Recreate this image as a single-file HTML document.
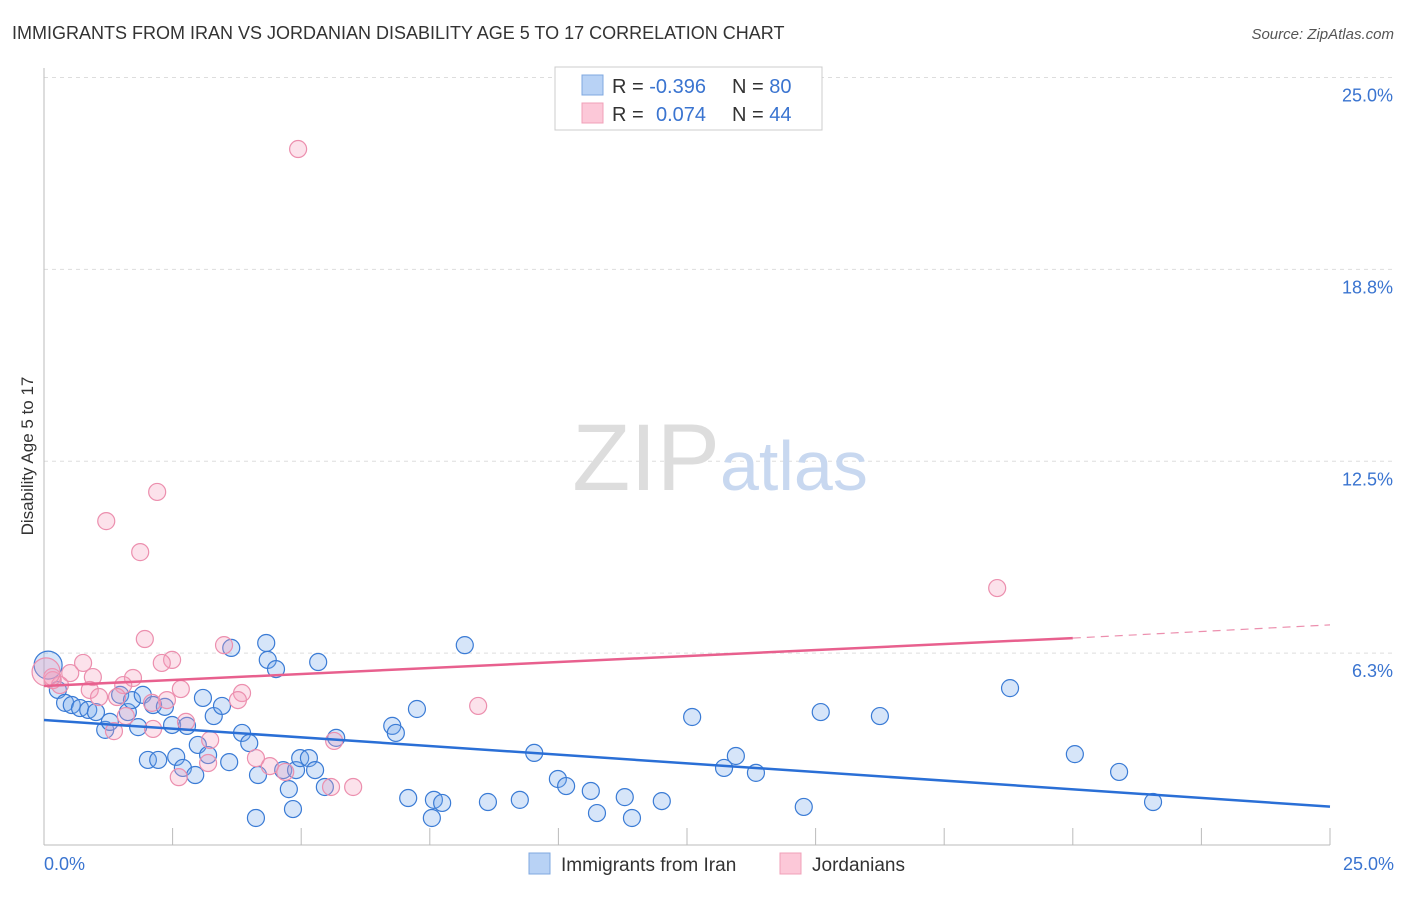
<!DOCTYPE html>
<html><head><meta charset="utf-8"><style>
body{margin:0;background:#fff;font-family:"Liberation Sans",sans-serif}
svg text{font-family:"Liberation Sans",sans-serif}
</style></head><body>
<svg width="1406" height="892" xmlns="http://www.w3.org/2000/svg">
<text x="12" y="39" font-size="18" fill="#333">IMMIGRANTS FROM IRAN VS JORDANIAN DISABILITY AGE 5 TO 17 CORRELATION CHART</text>
<text x="1394" y="39" font-size="15" fill="#555" font-style="italic" text-anchor="end">Source: ZipAtlas.com</text>
<g id="grid"></g>
<line x1="44" y1="68" x2="44" y2="845" stroke="#bbb"/>
<line x1="44" y1="845" x2="1330" y2="845" stroke="#bbb"/>
<text x="720" y="490" font-size="95" fill="#ddd" font-family="Liberation Serif" text-anchor="end">ZIP</text>
<text x="720" y="490" font-size="70" fill="#c8d8f0">atlas</text>
<text transform="translate(33,456) rotate(-90)" font-size="17" fill="#333" text-anchor="middle">Disability Age 5 to 17</text>
<text x="44" y="870" font-size="18" fill="#3a74d0">0.0%</text>
<text x="1394" y="870" font-size="18" fill="#3a74d0" text-anchor="end">25.0%</text>
<g id="ticks"></g>
<g id="pts"></g>
<g id="lines"></g>
<g>
<rect x="555" y="67" width="267" height="63" fill="#fff" stroke="#ccc"/>
<rect x="582" y="75" width="21" height="20" fill="#b8d2f5" stroke="#7fa8e0"/>
<rect x="582" y="103" width="21" height="20" fill="#fcc8d8" stroke="#f0a0b8"/>
<text x="612" y="93" font-size="20" fill="#333">R = <tspan fill="#3a74d0">-0.396</tspan><tspan x="732">N = </tspan><tspan fill="#3a74d0">80</tspan></text>
<text x="612" y="121" font-size="20" fill="#333">R = <tspan x="656" fill="#3a74d0">0.074</tspan><tspan x="732">N = </tspan><tspan fill="#3a74d0">44</tspan></text>
</g>
<g>
<rect x="529" y="853" width="21" height="21" fill="#b8d2f5" stroke="#7fa8e0"/>
<text x="561" y="871" font-size="19" fill="#333">Immigrants from Iran</text>
<rect x="780" y="853" width="21" height="21" fill="#fcc8d8" stroke="#f0a0b8"/>
<text x="812" y="871" font-size="19" fill="#333">Jordanians</text>
</g>
</svg>
<script>
const yTicks=[25,18.75,12.5,6.25];
const yTickLabels=["25.0%","18.8%","12.5%","6.3%"];
const xTicks=[2.5,5,7.5,10,12.5,15,17.5,20,22.5,25];
const bluePx=[[48,665],[58,690],[65,703],[72,705],[80,708],[88,710],[96,712],[105,730],[110,722],[120,695],[128,712],[132,700],[138,727],[143,695],[148,760],[153,705],[158,760],[165,707],[172,725],[176,757],[183,768],[187,726],[195,775],[198,745],[203,698],[208,755],[214,716],[222,706],[229,762],[231,648],[242,733],[249,743],[256,818],[258,775],[266,643],[268,660],[276,669],[283,770],[289,789],[293,809],[296,770],[300,758],[309,758],[315,770],[318,662],[325,787],[336,738],[392,726],[396,733],[408,798],[417,709],[432,818],[434,800],[442,803],[465,645],[488,802],[520,800],[534,753],[558,779],[566,786],[591,791],[597,813],[625,797],[632,818],[662,801],[692,717],[724,768],[736,756],[756,773],[804,807],[821,712],[880,716],[1010,688],[1075,754],[1119,772],[1153,802]];
const pinkPx=[[298,149],[157,492],[106,521],[140,552],[997,588],[145,639],[224,645],[172,660],[162,663],[83,663],[70,673],[53,680],[60,685],[93,677],[133,678],[123,685],[181,689],[242,693],[238,700],[90,690],[99,697],[117,697],[167,700],[152,703],[478,706],[126,716],[114,731],[153,729],[186,722],[210,740],[334,741],[208,763],[256,758],[179,777],[270,766],[285,772],[331,787],[353,787],[52,677],[46,672]];
// convert reading to data values
const blueX=bluePx.map(p=>+((p[0]-44)/51.44).toFixed(2)), blueY=bluePx.map(p=>+((845-p[1])/30.7).toFixed(2));
const pinkX=pinkPx.map(p=>+((p[0]-44)/51.44).toFixed(2)), pinkY=pinkPx.map(p=>+((845-p[1])/30.7).toFixed(2));
const blueTrend=[[0,4.07],[25,1.25]];
const pinkTrendSolid=[[0,5.18],[20,6.74]];
const pinkTrendDashed=[[20,6.74],[25,7.17]];
const sx=v=>44+v*51.44, sy=v=>845-v*30.7;
const NS="http://www.w3.org/2000/svg";
function mk(t,a,parent){const e=document.createElementNS(NS,t);for(const k in a)e.setAttribute(k,a[k]);document.getElementById(parent).appendChild(e);return e;}
yTicks.forEach((v,i)=>{
 const l=mk('line',{x1:44,x2:1394,y1:sy(v),y2:sy(v),stroke:'#ddd','stroke-dasharray':'4,4'},'grid');
 
 
 const t=mk('text',{x:1393,y:sy(v)+24,'font-size':18,fill:'#3a74d0','text-anchor':'end'},'grid');
 t.textContent=yTickLabels[i];
 
 
});
xTicks.forEach(v=>{
 const l=mk('line',{x1:sx(v),x2:sx(v),y1:828,y2:845,stroke:'#bbb'},'ticks');
 
 
});
blueX.forEach((x,i)=>{
 const c=mk('circle',{cx:sx(x),cy:sy(blueY[i]),r:i==0?14:8.5,fill:'rgba(120,170,235,0.3)',stroke:'#3a7bd5','stroke-width':1.2},'pts');
 
 
});
pinkX.forEach((x,i)=>{
 const c=mk('circle',{cx:sx(x),cy:sy(pinkY[i]),r:i==pinkX.length-1?14:8.5,fill:'rgba(245,160,190,0.3)',stroke:'#ec8fae','stroke-width':1.2},'pts');
 
 
});
function line(d,col,dash,name){
 const l=mk('line',{x1:sx(d[0][0]),y1:sy(d[0][1]),x2:sx(d[1][0]),y2:sy(d[1][1]),stroke:col,'stroke-width':dash?1.2:2.5},'lines');
 if(dash)l.setAttribute('stroke-dasharray','8,6');
 
 
}
line(blueTrend,'#2a6fd6',false,'trend-iran');
line(pinkTrendSolid,'#e8608e',false,'trend-jordanians');
line(pinkTrendDashed,'#ec8fae',true,'trend-jordanians-extension');
</script>
</body></html>
